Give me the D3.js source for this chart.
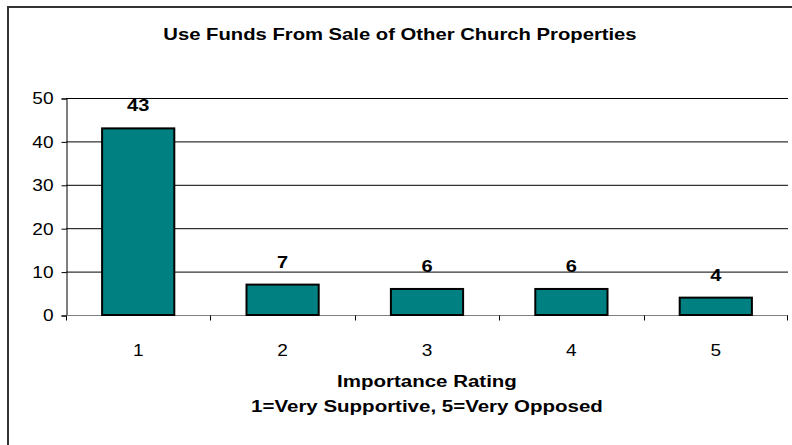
<!DOCTYPE html>
<html>
<head>
<meta charset="utf-8">
<script src="https://cdn.jsdelivr.net/npm/d3@7"></script>
<style>
  body { margin: 0; background: #fff; }
  svg { display: block; font-family: "Liberation Sans", Arial, sans-serif; }
</style>
</head>
<body>
<script>
// Importance rating bar chart
var ratings = ["1", "2", "3", "4", "5"];
var counts  = [43, 7, 6, 6, 4];
var yTicks  = [0, 10, 20, 30, 40, 50];
var titleText = "Use Funds From Sale of Other Church Properties";
var xTitle1 = "Importance Rating";
var xTitle2 = "1=Very Supportive, 5=Very Opposed";

var width = 792, height = 445;
var plotLeft = 66, plotRight = 788, plotTop = 98, plotBottom = 315;

var svg = d3.select("body").append("svg")
    .attr("width", width)
    .attr("height", height);

svg.append("rect").attr("width", width).attr("height", height).attr("fill", "#fff");

// the original text looks wide, so stretch it a bit
function stretch(sel, sx) {
  sel.each(function() {
    var w = this.getComputedTextLength();
    d3.select(this).attr("textLength", w * sx).attr("lengthAdjust", "spacingAndGlyphs");
  });
}

// outer frame, runs off the right and bottom edge
svg.append("rect")
    .attr("x", 8).attr("y", 7)
    .attr("width", 800).attr("height", 460)
    .attr("fill", "none")
    .attr("stroke", "#333")
    .attr("stroke-width", 2);

var x = d3.scaleBand().domain(ratings).range([plotLeft, plotRight]).paddingInner(0.5).paddingOuter(0.25);
var xEdge = d3.scaleBand().domain(ratings).range([plotLeft, plotRight]);
var y = d3.scaleLinear().domain([0, 50]).range([plotBottom, plotTop]);

// gridlines
svg.append("g").selectAll("line")
    .data(yTicks.filter(function(d) { return d > 0; }))
    .enter().append("line")
    .attr("x1", plotLeft).attr("x2", plotRight)
    .attr("y1", function(d) { return y(d) + 0.5; })
    .attr("y2", function(d) { return y(d) + 0.5; })
    .attr("stroke", "#000").attr("stroke-width", 1);

// y axis
var yAxis = svg.append("g")
    .attr("transform", "translate(" + (plotLeft + 0.5) + ",0.5)")
    .call(d3.axisLeft(y).tickValues(yTicks).tickSize(5).tickPadding(8));
yAxis.select(".domain").attr("stroke", "#000");
yAxis.selectAll("text").attr("font-size", 17).attr("fill", "#000")
    .attr("font-family", "Liberation Sans, Arial, sans-serif")
    .call(stretch, 1.12);

// x axis
var xAxis = svg.append("g")
    .attr("transform", "translate(0," + (plotBottom + 0.5) + ")");
xAxis.append("line")
    .attr("x1", plotLeft).attr("x2", plotRight)
    .attr("stroke", "#808080");
xAxis.selectAll(".tk")
    .data(ratings.concat(["end"]))
    .enter().append("line")
    .attr("class", "tk")
    .attr("x1", function(d) { return d === "end" ? plotRight - 0.5 : Math.round(xEdge(d)) + 0.5; })
    .attr("x2", function(d) { return d === "end" ? plotRight - 0.5 : Math.round(xEdge(d)) + 0.5; })
    .attr("y1", 0).attr("y2", 5)
    .attr("stroke", "#000");
xAxis.selectAll(".lbl")
    .data(ratings)
    .enter().append("text")
    .attr("class", "lbl")
    .attr("x", function(d) { return x(d) + x.bandwidth() / 2; })
    .attr("y", 40)
    .attr("text-anchor", "middle")
    .attr("font-size", 17)
    .text(function(d) { return d; })
    .call(stretch, 1.12);

// bars
svg.append("g").selectAll("rect")
    .data(counts)
    .enter().append("rect")
    .attr("x", function(d, i) { return x(ratings[i]); })
    .attr("y", function(d) { return y(d); })
    .attr("width", x.bandwidth())
    .attr("height", function(d) { return plotBottom - y(d); })
    .attr("fill", "#008080")
    .attr("stroke", "#000")
    .attr("stroke-width", 2);

// value labels
svg.append("g").selectAll("text")
    .data(counts)
    .enter().append("text")
    .attr("x", function(d, i) { return x(ratings[i]) + x.bandwidth() / 2; })
    .attr("y", function(d) { return y(d) - 17; })
    .attr("text-anchor", "middle")
    .attr("font-size", 16)
    .attr("font-weight", "bold")
    .text(function(d) { return d; })
    .call(stretch, 1.25);

// titles
svg.append("text")
    .attr("x", 400).attr("y", 40)
    .attr("text-anchor", "middle")
    .attr("font-size", 17)
    .attr("font-weight", "bold")
    .text(titleText)
    .call(stretch, 1.19);

svg.append("text")
    .attr("x", (plotLeft + plotRight) / 2).attr("y", 387)
    .attr("text-anchor", "middle")
    .attr("font-size", 16)
    .attr("font-weight", "bold")
    .text(xTitle1)
    .call(stretch, 1.28);

svg.append("text")
    .attr("x", (plotLeft + plotRight) / 2).attr("y", 412)
    .attr("text-anchor", "middle")
    .attr("font-size", 16)
    .attr("font-weight", "bold")
    .text(xTitle2)
    .call(stretch, 1.28);
</script>
</body>
</html>
